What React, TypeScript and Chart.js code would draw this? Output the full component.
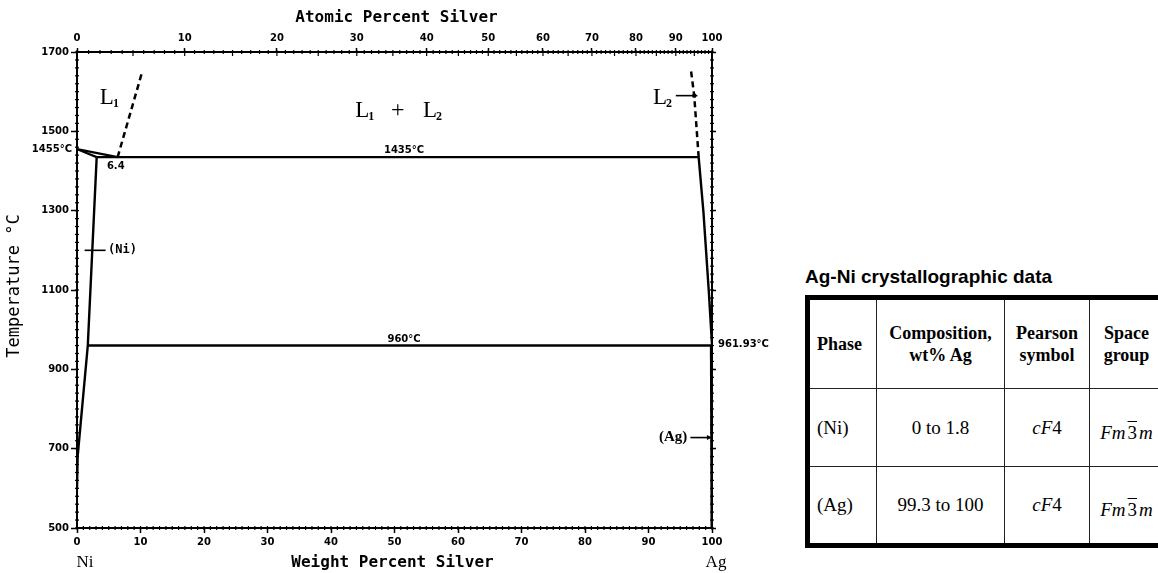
import React, { useEffect, useRef } from "react";
import { Chart, registerables } from "chart.js";

Chart.register(...registerables);

// ---------- axis ticks ----------
const weightTicks = [0, 10, 20, 30, 40, 50, 60, 70, 80, 90, 100];
const temperatureTicks = [500, 700, 900, 1100, 1300, 1500, 1700];
const atomicTickLabels = [0, 10, 20, 30, 40, 50, 60, 70, 80, 90, 100];
const AG_MASS = 107.87;
const NI_MASS = 58.69;
const wtFromAt = (a: number) => {
  const ag = a * AG_MASS;
  const ni = (100 - a) * NI_MASS;
  return (100 * ag) / (ag + ni);
};

// ---------- phase boundaries (wt% Ag, °C) ----------
const niLiquidusWt = [0, 6.4];
const niLiquidusT = [1455, 1435];
const niSolidusWt = [0, 3.1];
const niSolidusT = [1455, 1435];
const niSolvusWt = [3.1, 1.7, 0.1, 0];
const niSolvusT = [1435, 960, 680, 600];
const monotecticWt = [3.1, 97.9];
const monotecticT = [1435, 1435];
const eutecticWt = [1.7, 99.9];
const eutecticT = [960, 960];
const l1LiquidusWt = [6.4, 10.3];
const l1LiquidusT = [1435, 1652];
const l2LiquidusWt = [97.9, 97.2, 96.7];
const l2LiquidusT = [1435, 1590, 1652];
const agLiquidusWt = [97.9, 98.65, 99.5, 100];
const agLiquidusT = [1435, 1297, 1096, 961.93];
const agSolvusWt = [99.9, 100];
const agSolvusT = [960, 500];

// ---------- table ----------
const tableHeader = ["Phase", "Composition,\nwt% Ag", "Pearson\nsymbol", "Space\ngroup"];
const tablePhases = ["(Ni)", "(Ag)"];
const tableCompositions = ["0 to 1.8", "99.3 to 100"];
const tablePearson = ["cF4", "cF4"];

const pts = (xs: number[], ys: number[]) => xs.map((x, i) => ({ x, y: ys[i] }));

const MONO = '"DejaVu Sans Mono", monospace';
const SANS = '"DejaVu Sans", sans-serif';
const SERIF = '"Liberation Serif", "Times New Roman", serif';

const annotate = {
  id: "annotate",
  afterDraw(chart: any) {
    const { ctx, chartArea: ca, scales } = chart;
    const px = (v: number) => scales.x.getPixelForValue(v);
    const py = (v: number) => scales.y.getPixelForValue(v);
    const line = (x1: number, y1: number, x2: number, y2: number) => {
      ctx.beginPath();
      ctx.moveTo(x1, y1);
      ctx.lineTo(x2, y2);
      ctx.stroke();
    };
    const text = (s: string, X: number, Y: number, font: string, align = "center", base = "middle") => {
      ctx.font = font;
      ctx.textAlign = align;
      ctx.textBaseline = base;
      ctx.fillText(s, X, Y);
    };
    const drawL = (sub: string, X: number, Y: number) => {
      ctx.font = `23px ${SERIF}`;
      ctx.textAlign = "left";
      ctx.textBaseline = "alphabetic";
      ctx.fillText("L", X, Y);
      const w = ctx.measureText("L").width;
      ctx.font = `bold 12px ${SERIF}`;
      ctx.fillText(sub, X + w - 1, Y + 3);
    };

    ctx.save();
    ctx.strokeStyle = "#000";
    ctx.fillStyle = "#000";

    // minor ticks
    ctx.lineWidth = 1.2;
    for (let w = 0; w <= 100; w += 1) {
      const X = px(w);
      line(X, ca.bottom - 2, X, ca.bottom + 2);
    }
    for (let a = 0; a <= 100; a += 1) {
      const X = px(wtFromAt(a));
      const len = a % 5 === 0 ? 4 : 2;
      line(X, ca.top - 2, X, ca.top + len);
    }
    for (let t = 500; t <= 1700; t += 20) {
      const Y = py(t);
      line(ca.left - 2, Y, ca.left + 2, Y);
      line(ca.right - 2, Y, ca.right + 2, Y);
    }

    // axis titles
    text("Atomic Percent Silver", (ca.left + ca.right) / 2 + 2, ca.top - 34, `bold 16px ${MONO}`);
    text("Weight Percent Silver", (ca.left + ca.right) / 2 - 2, ca.bottom + 35, `bold 16px ${MONO}`);
    ctx.save();
    ctx.translate(ca.left - 62, py(1110));
    ctx.rotate(-Math.PI / 2);
    text("Temperature °C", 0, 0, `17px ${MONO}`);
    ctx.restore();
    text("Ni", px(0) + 8, ca.bottom + 35, `17px ${SERIF}`);
    text("Ag", px(100) + 4, ca.bottom + 35, `17px ${SERIF}`);

    // temperature labels
    text("1455°C", ca.left - 5, py(1455), `bold 10px ${SANS}`, "right");
    text("6.4", px(6.1), py(1435) + 9, `bold 10px ${SANS}`);
    text("1435°C", px(51.5), py(1435) - 2, `bold 10px ${SANS}`, "center", "bottom");
    text("960°C", px(51.5), py(960) - 1, `bold 10px ${SANS}`, "center", "bottom");
    text("961.93°C", px(100) + 6, py(961.93), `bold 10px ${SANS}`, "left");

    // phase labels
    drawL("1", px(3.6), py(1568));
    drawL("1", px(43.8), py(1535));
    text("+", px(50.5), py(1535) - 7, `24px ${SERIF}`);
    drawL("2", px(54.5), py(1535));
    drawL("2", px(90.7), py(1568));

    // L2 pointer
    ctx.lineWidth = 1.6;
    line(px(94.3), py(1590), px(97.7), py(1590));
    ctx.beginPath();
    ctx.arc(px(97.2), py(1590), 2.2, 0, Math.PI * 2);
    ctx.fill();

    // (Ni) marker
    line(px(1.2), py(1200), px(4.5), py(1200));
    text("(Ni)", px(4.9), py(1200), `bold 12px ${MONO}`, "left");

    // (Ag) arrow
    text("(Ag)", px(96.1), py(728), `bold 15px ${SERIF}`, "right");
    line(px(96.6), py(728), px(99.6), py(728));
    ctx.beginPath();
    ctx.moveTo(px(100), py(728));
    ctx.lineTo(px(99.2), py(728) - 2.5);
    ctx.lineTo(px(99.2), py(728) + 2.5);
    ctx.closePath();
    ctx.fill();

    ctx.restore();
  },
};

function PhaseChart() {
  const ref = useRef<HTMLCanvasElement>(null);
  useEffect(() => {
    if (!ref.current) return;
    const solid = (xs: number[], ys: number[], w = 2.2) => ({
      data: pts(xs, ys),
      showLine: true,
      borderColor: "#000",
      borderWidth: w,
      pointRadius: 0,
      fill: false,
    });
    const dashed = (xs: number[], ys: number[]) => ({
      ...solid(xs, ys, 2.5),
      borderDash: [6, 4],
    });
    const tickFont = { family: SANS, weight: "bold" as const, size: 10 };
    const plain = (v: any) => String(v);
    const chart = new Chart(ref.current, {
      type: "scatter",
      data: {
        datasets: [
          solid(niLiquidusWt, niLiquidusT),
          solid(niSolidusWt, niSolidusT),
          solid(niSolvusWt, niSolvusT, 2.4),
          solid(monotecticWt, monotecticT),
          solid(eutecticWt, eutecticT, 2.4),
          dashed(l1LiquidusWt, l1LiquidusT),
          dashed(l2LiquidusWt, l2LiquidusT),
          solid(agLiquidusWt, agLiquidusT, 2.4),
          solid(agSolvusWt, agSolvusT, 3),
        ] as any,
      },
      options: {
        animation: false,
        responsive: false,
        layout: { padding: 0 },
        plugins: { legend: { display: false }, tooltip: { enabled: false } },
        scales: {
          x: {
            type: "linear",
            position: "bottom",
            min: 0,
            max: 100,
            afterBuildTicks: (s: any) => {
              s.ticks = weightTicks.map((v) => ({ value: v }));
            },
            ticks: { color: "#000", font: tickFont, padding: 3, autoSkip: false, maxRotation: 0, callback: plain },
            grid: { drawOnChartArea: false, color: "#000", tickLength: 5, tickWidth: 1.5 },
            border: { color: "#000", width: 2 },
            afterFit: (s: any) => {
              s.height = 45;
            },
          },
          x2: {
            type: "linear",
            position: "top",
            min: 0,
            max: 100,
            afterBuildTicks: (s: any) => {
              s.ticks = atomicTickLabels.map((a) => ({ value: wtFromAt(a) }));
            },
            ticks: {
              color: "#000",
              font: tickFont,
              padding: 4,
              autoSkip: false,
              maxRotation: 0,
              callback: (_v: any, i: number) => String(atomicTickLabels[i]),
            },
            grid: { drawOnChartArea: false, color: "#000", tickLength: 4, tickWidth: 1.5 },
            border: { color: "#000", width: 2 },
            afterFit: (s: any) => {
              s.height = 52;
            },
          },
          y: {
            type: "linear",
            position: "left",
            min: 500,
            max: 1700,
            afterBuildTicks: (s: any) => {
              s.ticks = temperatureTicks.map((v) => ({ value: v }));
            },
            ticks: { color: "#000", font: tickFont, padding: 2, autoSkip: false, callback: plain },
            grid: { drawOnChartArea: false, color: "#000", tickLength: 6, tickWidth: 1.5 },
            border: { color: "#000", width: 2 },
            afterFit: (s: any) => {
              s.width = 77;
            },
          },
          y2: {
            type: "linear",
            position: "right",
            min: 500,
            max: 1700,
            afterBuildTicks: (s: any) => {
              s.ticks = temperatureTicks.map((v) => ({ value: v }));
            },
            ticks: { display: false },
            grid: { drawOnChartArea: false, color: "#000", tickLength: 4, tickWidth: 1.5 },
            border: { color: "#000", width: 2 },
            afterFit: (s: any) => {
              s.width = 78;
            },
          },
        },
      } as any,
      plugins: [annotate],
    });
    return () => chart.destroy();
  }, []);
  return (
    <canvas
      ref={ref}
      width={790}
      height={573}
      style={{ position: "absolute", left: 0, top: 0, width: 790, height: 573, display: "block" }}
    />
  );
}

const cellBorder = "1.5px solid #222";

function SpaceGroup() {
  return (
    <span style={{ fontSize: 19 }}>
      <i>Fm</i>
      <span style={{ textDecoration: "overline", marginLeft: 2, marginRight: 2 }}>3</span>
      <i>m</i>
    </span>
  );
}

function DataTable() {
  const colW = [69, 128, 85, 76];
  const rowH = [88, 77, 76];
  const head = (s: string, i: number) => (
    <td
      key={i}
      style={{
        border: cellBorder,
        height: rowH[0],
        padding: 0,
        textAlign: i === 0 ? "left" : "center",
        paddingLeft: i === 0 ? 7 : 0,
        fontWeight: "bold",
        fontSize: 18,
        lineHeight: "22px",
        whiteSpace: "pre-line",
        verticalAlign: "middle",
      }}
    >
      {s}
    </td>
  );
  const cell = { border: cellBorder, padding: 0, fontSize: 19, textAlign: "center" as const };
  return (
    <>
      <div
        style={{
          position: "absolute",
          left: 805,
          top: 266,
          font: 'bold 19px "Liberation Sans", Arial, sans-serif',
          color: "#000",
          whiteSpace: "nowrap",
        }}
      >
        Ag-Ni crystallographic data
      </div>
      <table
        style={{
          position: "absolute",
          left: 805,
          top: 295,
          borderCollapse: "collapse",
          border: "5px solid #000",
          tableLayout: "fixed",
          width: colW.reduce((a, b) => a + b, 0),
          fontFamily: SERIF,
          color: "#000",
        }}
      >
        <colgroup>
          {colW.map((w, i) => (
            <col key={i} style={{ width: w }} />
          ))}
        </colgroup>
        <tbody>
          <tr>{tableHeader.map(head)}</tr>
          {tablePhases.map((p, r) => (
            <tr key={p}>
              <td style={{ ...cell, height: rowH[r + 1], paddingLeft: 7, textAlign: "left" }}>{p}</td>
              <td style={cell}>{tableCompositions[r]}</td>
              <td style={{ ...cell, fontStyle: "italic" }}>
                {tablePearson[r].slice(0, 2)}
                <span style={{ fontStyle: "normal" }}>{tablePearson[r].slice(2)}</span>
              </td>
              <td style={{ ...cell, paddingTop: 10 }}>
                <SpaceGroup />
              </td>
            </tr>
          ))}
        </tbody>
      </table>
    </>
  );
}

export default function App() {
  return (
    <div
      style={{
        position: "absolute",
        left: 0,
        top: 0,
        width: 1158,
        height: 573,
        overflow: "hidden",
        background: "#fff",
      }}
    >
      <PhaseChart />
      <DataTable />
    </div>
  );
}
